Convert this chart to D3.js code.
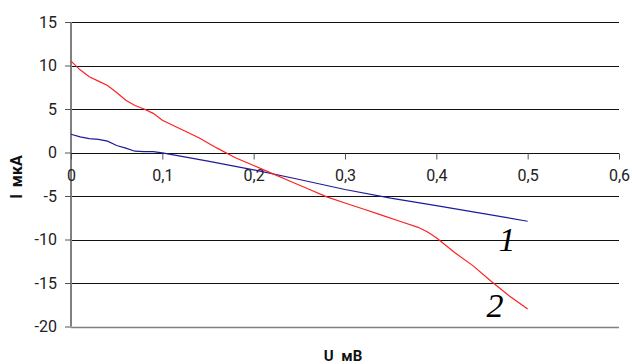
<!DOCTYPE html>
<html><head><meta charset="utf-8">
<script src="https://cdn.jsdelivr.net/npm/d3@7"></script>
<style>body{margin:0;background:#fff}svg{display:block}</style>
</head><body><svg id="c" width="632" height="364"></svg>
<script>
// Data
const uBlue = [0, 0.01, 0.02, 0.03, 0.04, 0.05, 0.06, 0.07, 0.08, 0.09, 0.1, 0.15, 0.2, 0.25, 0.3, 0.35, 0.4, 0.45, 0.5];
const iBlue = [2.1, 1.8, 1.6, 1.5, 1.3, 0.8, 0.5, 0.15, 0.1, 0.1, -0.05, -1.0, -2.0, -3.1, -4.25, -5.25, -6.1, -7.0, -7.9];
const uRed = [0, 0.01, 0.02, 0.03, 0.04, 0.05, 0.06, 0.07, 0.08, 0.09, 0.1, 0.12, 0.14, 0.16, 0.18, 0.2, 0.22, 0.24, 0.26, 0.28, 0.3, 0.32, 0.34, 0.36, 0.38, 0.39, 0.4, 0.42, 0.44, 0.46, 0.48, 0.5];
const iRed = [10.5, 9.5, 8.7, 8.2, 7.7, 6.9, 6.0, 5.4, 5.0, 4.5, 3.7, 2.7, 1.7, 0.5, -0.6, -1.5, -2.4, -3.3, -4.2, -5.1, -5.8, -6.5, -7.2, -7.9, -8.6, -9.1, -9.8, -11.5, -13.0, -14.8, -16.5, -18.0];
const xTicks = [0, 0.1, 0.2, 0.3, 0.4, 0.5, 0.6];
const yTicks = [15, 10, 5, 0, -5, -10, -15, -20];
const xTitle = "U мВ";
const yTitle = "I мкА";
const curveLabels = ["1", "2"];

const svg = d3.select("#c");
const x = d3.scaleLinear().domain([0, 0.6]).range([71, 619]);
const y = d3.scaleLinear().domain([-20, 15]).range([326.5, 22]);
const fmt = d => String(d).replace(".", ",");
const font = "Roboto, 'Liberation Sans', sans-serif";

// horizontal gridlines
svg.append("g").selectAll("line").data(yTicks.filter(t => t !== -20 && t !== 0)).join("line")
  .attr("x1", 71).attr("x2", 619)
  .attr("y1", d => Math.round(y(d)) + 0.5).attr("y2", d => Math.round(y(d)) + 0.5)
  .attr("stroke", "#111").attr("stroke-width", 1);

// bottom border
svg.append("line").attr("x1", 71).attr("x2", 619)
  .attr("y1", Math.round(y(-20)) + 0.5).attr("y2", Math.round(y(-20)) + 0.5)
  .attr("stroke", "#808080").attr("stroke-width", 1.5);

// y axis
const yAxis = svg.append("g").attr("transform", "translate(71,0)")
  .call(d3.axisLeft(y).tickValues(yTicks).tickSize(6).tickPadding(8).tickFormat(fmt));
yAxis.select(".domain").attr("stroke", "#808080").attr("stroke-width", 2).attr("d", `M0,${y(15)}V${y(-20)}`);
yAxis.selectAll(".tick line").attr("stroke", "#555");
yAxis.selectAll("text").attr("font-family", font).attr("font-size", 16).attr("fill", "#222");

// x axis at y=0
const xAxis = svg.append("g").attr("transform", `translate(0,${Math.round(y(0)) + 0.5})`)
  .call(d3.axisBottom(x).tickValues(xTicks).tickSize(6).tickPadding(10).tickFormat(fmt));
xAxis.select(".domain").attr("stroke", "#111").attr("d", `M${x(0)},0H${x(0.6)}`);
xAxis.selectAll(".tick line").attr("stroke", "#555");
xAxis.selectAll("text").attr("font-family", font).attr("font-size", 16).attr("fill", "#222");

// lines
const line = d3.line().x(d => x(d[0])).y(d => y(d[1]));
svg.append("path").datum(uBlue.map((u, i) => [u, iBlue[i]]))
  .attr("d", line).attr("fill", "none").attr("stroke", "#1c1c9a").attr("stroke-width", 1.2);
svg.append("path").datum(uRed.map((u, i) => [u, iRed[i]]))
  .attr("d", line).attr("fill", "none").attr("stroke", "#ff2020").attr("stroke-width", 1.2);

// curve labels
svg.append("text").attr("x", x(0.468)).attr("y", y(-11.3)).text(curveLabels[0])
  .attr("font-family", "'Liberation Serif', 'DejaVu Serif', serif").attr("font-style", "italic")
  .attr("font-size", 34).attr("fill", "#000");
svg.append("text").attr("x", x(0.455)).attr("y", y(-18.9)).text(curveLabels[1])
  .attr("font-family", "'Liberation Serif', 'DejaVu Serif', serif").attr("font-style", "italic")
  .attr("font-size", 34).attr("fill", "#000");

// axis titles
svg.append("text").attr("x", 343).attr("y", 361).attr("text-anchor", "middle")
  .attr("font-family", font).attr("font-weight", "bold").attr("font-size", 15)
  .attr("word-spacing", 4).attr("fill", "#111").text(xTitle);
svg.append("text").attr("transform", "translate(22,177) rotate(-90)").attr("text-anchor", "middle")
  .attr("font-family", font).attr("font-weight", "bold").attr("font-size", 16)
  .attr("word-spacing", 3).attr("fill", "#111").text(yTitle);
</script></body></html>
